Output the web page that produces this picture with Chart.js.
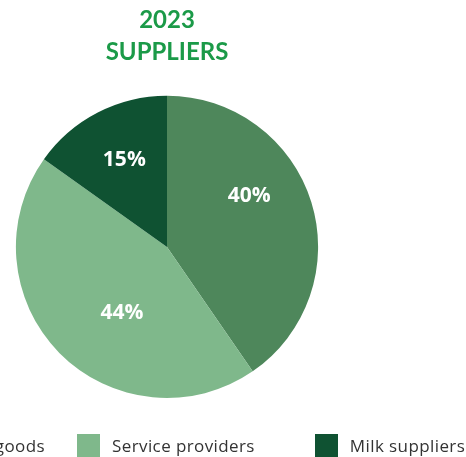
<!DOCTYPE html>
<html>
<head>
<meta charset="utf-8">
<script src="https://cdn.jsdelivr.net/npm/chart.js@4.4.1/dist/chart.umd.min.js"></script>
<style>
  html, body { margin: 0; padding: 0; background: #fff; overflow: hidden; width: 466px; height: 457px; }
  #chartBox { position: absolute; left: 0; top: 0; width: 334px; height: 457px; }
  #legend { position: absolute; left: 77px; top: 434px; display: flex; white-space: nowrap;
            font-family: 'Open Sans', sans-serif; font-size: 17px; letter-spacing: 0.4px; color: #333; }
  .item { display: flex; align-items: center; height: 23px; }
  .item .swatch { width: 23px; height: 23px; margin-right: 12px; flex: none; }
  .item.first { position: absolute; right: calc(100% + 32px); top: 0; }
  .item.mid { margin-right: 60px; }
</style>
</head>
<body>
<div id="chartBox"><canvas id="suppliers" width="334" height="457"></canvas></div>
<div id="legend"></div>
<script>
// supplier mix, share of total in percent
const categories = ['Purchased goods', 'Service providers', 'Milk suppliers'];
const shares = [40, 44, 15];
const sliceColors = ['#4e875b', '#7fb88b', '#0f5232'];

// where each percentage sits: fraction along the arc, fraction of the radius
const labelAnchors = [{ t: 0.40, r: 0.64 }, { t: 0.43, r: 0.53 }, { t: 0.52, r: 0.64 }];

const sliceLabels = {
    id: 'sliceLabels',
    afterDatasetsDraw(chart) {
        const ctx = chart.ctx;
        const meta = chart.getDatasetMeta(0);
        ctx.save();
        ctx.font = 'bold 21px "Open Sans"';
        ctx.fillStyle = '#ffffff';
        ctx.textAlign = 'center';
        ctx.textBaseline = 'middle';
        meta.data.forEach((arc, i) => {
            const p = arc.getProps(['x', 'y', 'startAngle', 'endAngle', 'outerRadius'], true);
            const a = p.startAngle + (p.endAngle - p.startAngle) * labelAnchors[i].t;
            const r = p.outerRadius * labelAnchors[i].r;
            ctx.fillText(shares[i] + '%', p.x + Math.cos(a) * r, p.y + Math.sin(a) * r);
        });
        ctx.restore();
    }
};

new Chart(document.getElementById('suppliers'), {
    type: 'pie',
    data: {
        labels: categories,
        datasets: [{
            data: shares,
            backgroundColor: sliceColors,
            borderWidth: 0
        }]
    },
    options: {
        responsive: false,
        animation: false,
        devicePixelRatio: 1,
        layout: { padding: { bottom: 59 } },
        plugins: {
            title: {
                display: true,
                text: ['2023', 'SUPPLIERS'],
                color: '#1b9a48',
                font: { family: 'Lato', size: 24, weight: 'bold', lineHeight: 1.35 },
                padding: { top: 4, bottom: 27 }
            },
            legend: { display: false },
            tooltip: { enabled: false }
        }
    },
    plugins: [sliceLabels]
});

// legend row under the pie
const legend = document.getElementById('legend');
categories.forEach((name, i) => {
    const item = document.createElement('div');
    item.className = 'item' + (i === 0 ? ' first' : i === 1 ? ' mid' : '');
    item.innerHTML = `<span class="swatch" style="background:${sliceColors[i]}"></span><span>${name}</span>`;
    legend.appendChild(item);
});
</script>
</body>
</html>
